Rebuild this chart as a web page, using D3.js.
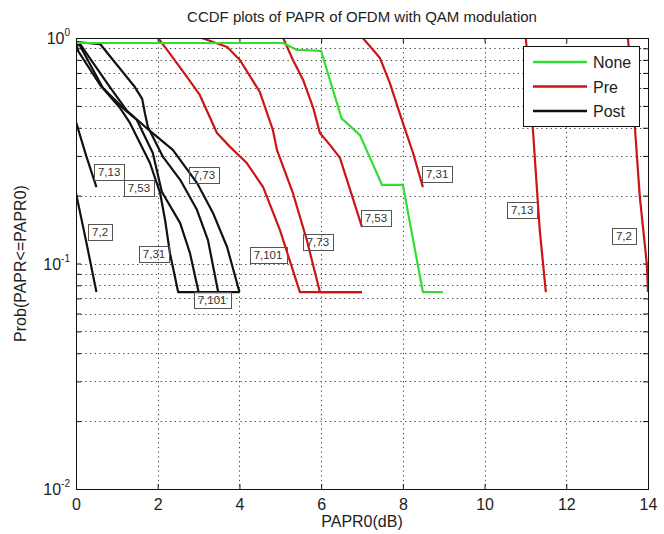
<!DOCTYPE html>
<html>
<head>
<meta charset="utf-8">
<script src="https://cdn.jsdelivr.net/npm/d3@7"></script>
<style>
body { margin: 0; background: #fff; }
text { font-family: Arial, "Liberation Sans", sans-serif; }
</style>
</head>
<body>
<div class="chart"></div>
<script>
// ---- data ----
var xTicks = [0, 2, 4, 6, 8, 10, 12, 14];
var yDecades = [0.01, 0.1, 1];
var yExponents = ["-2", "-1", "0"];

var noneCurve = [[0, 0.95], [5.07, 0.95], [5.41, 0.885], [6.0, 0.876], [6.5, 0.44], [6.95, 0.371],
    [7.49, 0.223], [8.0, 0.223], [8.49, 0.0747], [8.98, 0.0747]];

var pre101 = [[2.01, 1.0], [2.23, 0.885], [2.72, 0.671], [3.03, 0.559], [3.45, 0.379], [3.77, 0.329],
    [4.18, 0.279], [4.58, 0.218], [4.99, 0.141], [5.48, 0.0747], [7.0, 0.0747]];
var pre73 = [[3.08, 1.0], [3.7, 0.912], [4.01, 0.799], [4.5, 0.576], [4.82, 0.39], [4.92, 0.318],
    [5.31, 0.205], [5.65, 0.127], [5.97, 0.0747], [7.0, 0.0747]];
var pre53 = [[5.07, 1.0], [5.31, 0.799], [5.56, 0.651], [5.8, 0.494], [5.97, 0.379], [6.22, 0.335],
    [6.46, 0.294], [6.71, 0.212], [7.0, 0.145]];
var pre31 = [[7.02, 1.0], [7.44, 0.815], [7.68, 0.632], [8.0, 0.42], [8.25, 0.309], [8.49, 0.218]];
var pre13 = [[11.01, 1.0], [11.18, 0.40], [11.35, 0.141], [11.5, 0.0747]];
var pre2 = [[13.51, 1.0], [13.68, 0.40], [13.8, 0.197], [13.97, 0.1], [14.0, 0.0747]];

var post2 = [[0, 0.205], [0.25, 0.125], [0.5, 0.0747]];
var post13 = [[0, 0.424], [0.25, 0.3], [0.5, 0.218]];
var post31 = [[0, 0.96], [0.05, 0.876], [0.59, 0.619], [1.08, 0.489], [1.32, 0.42], [1.81, 0.279],
    [2.06, 0.205], [2.18, 0.156], [2.3, 0.111], [2.5, 0.0747], [4.0, 0.0747]];
var post53 = [[0, 0.96], [0.1, 0.922], [0.66, 0.6], [1.2, 0.48], [1.49, 0.433], [1.88, 0.309],
    [2.1, 0.208], [2.55, 0.151], [2.79, 0.111], [3.0, 0.0747]];
var post73 = [[0, 0.96], [0.59, 0.94], [1.44, 0.606], [1.62, 0.537], [1.69, 0.46], [1.76, 0.403],
    [2.13, 0.297], [2.55, 0.235], [2.96, 0.173], [3.23, 0.127], [3.48, 0.0747]];
var post101 = [[0, 0.96], [0.1, 0.94], [0.83, 0.606], [1.25, 0.475], [1.81, 0.387], [2.37, 0.319],
    [2.96, 0.228], [3.35, 0.168], [3.7, 0.118], [4.0, 0.0747]];

var postLabels = [["7,13", 0.81, 0.255], ["7,53", 1.54, 0.216], ["7,73", 3.13, 0.247],
    ["7,2", 0.59, 0.138], ["7,31", 1.91, 0.110], ["7,101", 3.33, 0.0687]];
var preLabels = [["7,101", 4.70, 0.109], ["7,73", 5.92, 0.124], ["7,53", 7.34, 0.159],
    ["7,31", 8.84, 0.249], ["7,13", 10.92, 0.173], ["7,2", 13.41, 0.132]];

var legendNames = ["None", "Pre", "Post"];
var legendColors = ["#33dd33", "#cc1515", "#111111"];

// ---- layout ----
var svgWidth = 664;
var svgHeight = 534;
var margin = { top: 38, right: 16, bottom: 45, left: 76 };
var width = svgWidth - margin.left - margin.right;
var height = svgHeight - margin.top - margin.bottom;

var svg = d3.select(".chart")
    .append("svg")
    .attr("width", svgWidth)
    .attr("height", svgHeight);

var chartGroup = svg.append("g")
    .attr("transform", `translate(${margin.left}, ${margin.top})`);

var xScale = d3.scaleLinear().domain([0, 14]).range([0, width]);
var yScale = d3.scaleLog().domain([0.01, 1]).range([height, 0]);

// minor log values for grid and ticks
var yMinor = [];
[0.01, 0.1].forEach(function(dec) {
    for (var k = 1; k <= 9; k++) yMinor.push(dec * k);
});
yMinor.push(1);

chartGroup.append("defs").append("clipPath").attr("id", "plotClip")
    .append("rect").attr("width", width).attr("height", height);

// grid
var grid = chartGroup.append("g").attr("class", "grid")
    .attr("stroke", "#444").attr("stroke-width", 1).attr("stroke-dasharray", "1.3,3.4");
grid.selectAll(".vg").data(xTicks.slice(1, -1)).enter().append("line")
    .attr("x1", d => Math.round(xScale(d)) + 0.5).attr("x2", d => Math.round(xScale(d)) + 0.5)
    .attr("y1", 0).attr("y2", height);
grid.selectAll(".hg").data(yMinor.filter(d => d > 0.011 && d < 0.99)).enter().append("line")
    .attr("y1", d => Math.round(yScale(d)) + 0.5).attr("y2", d => Math.round(yScale(d)) + 0.5)
    .attr("x1", 0).attr("x2", width);

// axes with inward ticks
function styleAxis(g) {
    g.select(".domain").remove();
    g.selectAll(".tick line").attr("stroke", "#111");
}
chartGroup.append("g").attr("transform", `translate(0, ${height})`)
    .call(d3.axisBottom(xScale).tickValues(xTicks).tickSize(-5).tickPadding(10).tickFormat(d3.format("d")))
    .call(styleAxis)
    .selectAll("text").attr("font-size", 16).attr("fill", "#222")
    .attr("font-family", "Arial, Liberation Sans, sans-serif");
chartGroup.append("g")
    .call(d3.axisTop(xScale).tickValues(xTicks).tickSize(-5).tickFormat(""))
    .call(styleAxis);
chartGroup.append("g")
    .call(d3.axisLeft(yScale).tickValues(yMinor).tickSize(-5).tickFormat(""))
    .call(styleAxis);
chartGroup.append("g").attr("transform", `translate(${width}, 0)`)
    .call(d3.axisRight(yScale).tickValues(yMinor).tickSize(-5).tickFormat(""))
    .call(styleAxis);

// y decade labels 10^n
var yLab = chartGroup.selectAll(".ylab").data(yDecades).enter().append("text")
    .attr("x", -6).attr("y", d => yScale(d) + 6)
    .attr("text-anchor", "end").attr("fill", "#222").attr("font-size", 16);
yLab.append("tspan").text("10");
yLab.append("tspan").attr("dy", -8).attr("font-size", 10).text((d, i) => yExponents[i]);

// curves
var line = d3.line().x(d => xScale(d[0])).y(d => yScale(d[1]));
var curves = chartGroup.append("g").attr("clip-path", "url(#plotClip)")
    .attr("fill", "none").attr("stroke-width", 2.2).attr("stroke-linejoin", "round");

[post2, post13, post31, post53, post73, post101].forEach(function(c) {
    curves.append("path").datum(c).attr("d", line).attr("stroke", legendColors[2]);
});
[pre101, pre73, pre53, pre31, pre13, pre2].forEach(function(c) {
    curves.append("path").datum(c).attr("d", line).attr("stroke", legendColors[1]);
});
curves.append("path").datum(noneCurve).attr("d", line).attr("stroke", legendColors[0]);

// data-tip style labels
function drawLabels(list) {
    var g = chartGroup.append("g");
    list.forEach(function(l) {
        var cx = xScale(l[1]), cy = yScale(l[2]);
        var t = g.append("text").attr("x", cx).attr("y", cy + 4)
            .attr("text-anchor", "middle").attr("font-size", 11.5).attr("fill", "#333").text(l[0]);
        var w = t.node().getComputedTextLength() + 8;
        g.insert("rect", "text")
            .attr("x", Math.round(cx - w / 2) + 0.5).attr("y", Math.round(cy - 8) + 0.5)
            .attr("width", Math.round(w)).attr("height", 16)
            .attr("fill", "none").attr("stroke", "#555").attr("stroke-width", 1);
    });
}
drawLabels(postLabels);
drawLabels(preLabels);

// axes box
chartGroup.append("rect").attr("x", 0.5).attr("y", 0.5).attr("width", width).attr("height", height)
    .attr("fill", "none").attr("stroke", "#111").attr("stroke-width", 1);

// legend
var legend = chartGroup.append("g").attr("transform", `translate(${width - 125}, 8)`);
legend.append("rect").attr("x", 0.5).attr("y", 0.5).attr("width", 116).attr("height", 80)
    .attr("fill", "#fff").attr("stroke", "#111");
legendNames.forEach(function(name, i) {
    var ly = 16 + i * 24.5;
    legend.append("line").attr("x1", 10).attr("x2", 64).attr("y1", ly).attr("y2", ly)
        .attr("stroke", legendColors[i]).attr("stroke-width", 2.5);
    legend.append("text").attr("x", 70).attr("y", ly + 6).attr("font-size", 16)
        .attr("fill", "#222").text(name);
});

// titles
svg.append("text").attr("x", margin.left + width / 2).attr("y", 22)
    .attr("text-anchor", "middle").attr("font-size", 15).attr("fill", "#222")
    .text("CCDF plots of PAPR of OFDM with QAM modulation");
svg.append("text").attr("x", margin.left + width / 2).attr("y", 527)
    .attr("text-anchor", "middle").attr("font-size", 16).attr("fill", "#222")
    .text("PAPR0(dB)");
svg.append("text").attr("transform", `translate(26, ${margin.top + height / 2}) rotate(-90)`)
    .attr("text-anchor", "middle").attr("font-size", 16).attr("fill", "#222")
    .text("Prob(PAPR<=PAPR0)");
</script>
</body>
</html>
